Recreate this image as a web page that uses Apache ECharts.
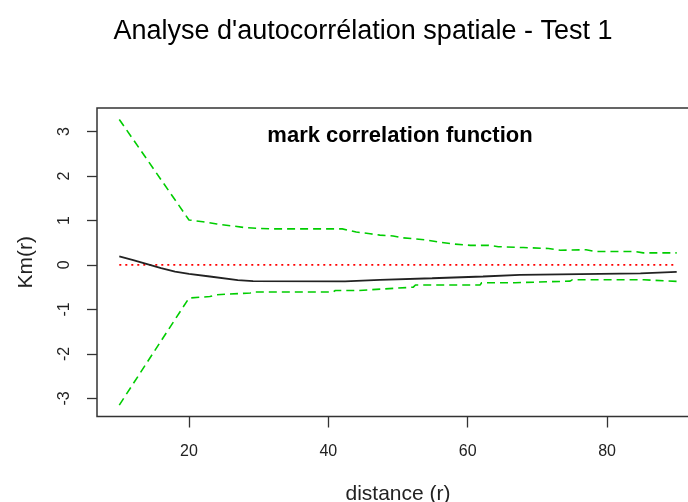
<!DOCTYPE html>
<html>
<head>
<meta charset="utf-8">
<script src="https://cdn.jsdelivr.net/npm/echarts@6/dist/echarts.min.js"></script>
<style>
  html, body { margin: 0; padding: 0; background: #ffffff; }
  #chart { width: 688px; height: 502px; }
</style>
</head>
<body>
<div id="chart"></div>
<script>
// Observed mark correlation function Km(r)
const obsR  = [10, 12, 14, 16, 18, 20, 23, 27, 29.2, 42.4, 42.5, 47.4, 47.5, 54.9, 55, 62.2, 62.3, 67.5, 67.6, 84.8, 84.9, 90];
const obsKm = [0.19, 0.11, 0.02, -0.07, -0.15, -0.20, -0.26, -0.34, -0.365, -0.37, -0.335, -0.335, -0.30, -0.30, -0.26, -0.26, -0.225, -0.225, -0.19, -0.19, -0.155, -0.155];

// Upper simulation envelope
const hiR  = [10, 20, 22, 24, 26, 28, 30, 32, 42, 44, 46, 47.4, 49.3, 50.6, 52.2, 54, 56, 58, 60.4, 63, 64.4, 68, 71.6, 73.3, 77, 78.3, 84, 85.2, 90];
const hiKm = [3.27, 1.01, 0.97, 0.92, 0.88, 0.84, 0.82, 0.81, 0.81, 0.74, 0.70, 0.67, 0.65, 0.61, 0.59, 0.56, 0.51, 0.47, 0.44, 0.44, 0.41, 0.39, 0.37, 0.33, 0.34, 0.30, 0.30, 0.27, 0.27];

// Lower simulation envelope
const loR  = [10, 20, 23, 24, 28.8, 29.2, 40.7, 41, 44.3, 44.5, 47.9, 48, 52.2, 52.5, 61.8, 62, 66.8, 67, 74.7, 75, 85.3, 85.5, 90];
const loKm = [-3.15, -0.745, -0.71, -0.67, -0.63, -0.61, -0.61, -0.575, -0.575, -0.54, -0.54, -0.50, -0.50, -0.45, -0.45, -0.40, -0.40, -0.365, -0.365, -0.335, -0.335, -0.37, -0.37];

// Theoretical value under independence
const theoR  = [10, 90];
const theoKm = [0, 0];

const xTicks = [20, 40, 60, 80];
const yTicks = [-3, -2, -1, 0, 1, 2, 3];

const pairs = (xs, ys) => xs.map((x, i) => [x, ys[i]]);

// axis limits extended by 4% of the data range on each side
function padded(values) {
  const lo = Math.min(...values), hi = Math.max(...values);
  const d = (hi - lo) * 0.04;
  return [lo - d, hi + d];
}
const xLim = padded([].concat(obsR, hiR, loR, theoR));
const yLim = padded([].concat(obsKm, hiKm, loKm, theoKm));

const font = '"Liberation Sans", Arial, Helvetica, sans-serif';
const ink = '#222222';

const chart = echarts.init(document.getElementById('chart'), null, { renderer: 'canvas' });
chart.setOption({
  animation: false,
  backgroundColor: '#ffffff',
  title: [
    {
      text: "Analyse d'autocorrélation spatiale - Test 1",
      left: 358, top: 13, textAlign: 'center',
      textStyle: { fontFamily: font, fontSize: 27, fontWeight: 'normal', color: '#000' }
    },
    {
      text: 'mark correlation function',
      left: 395, top: 120, textAlign: 'center',
      textStyle: { fontFamily: font, fontSize: 22, fontWeight: 'bold', color: '#000' }
    }
  ],
  grid: {
    left: 97, top: 108, right: -11, bottom: 85.5,
    outerBoundsMode: 'none', containLabel: false,
    show: true, borderColor: '#333', borderWidth: 1.5, backgroundColor: 'transparent'
  },
  xAxis: {
    type: 'value', min: xLim[0], max: xLim[1],
    name: 'distance (r)', nameLocation: 'middle', nameGap: 67,
    nameTextStyle: { fontFamily: font, fontSize: 21, color: ink },
    axisLine: { show: false, onZero: false },
    axisTick: { show: true, length: 11, customValues: xTicks, lineStyle: { color: '#333', width: 1.3 } },
    axisLabel: { customValues: xTicks, margin: 27, fontFamily: font, fontSize: 16, color: ink },
    splitLine: { show: false }
  },
  yAxis: {
    type: 'value', min: yLim[0], max: yLim[1],
    name: 'Km(r)', nameLocation: 'middle', nameGap: 60, nameRotate: 90,
    nameTextStyle: { fontFamily: font, fontSize: 21, color: ink },
    axisLine: { show: false, onZero: false },
    axisTick: { show: true, length: 10, customValues: yTicks, lineStyle: { color: '#333', width: 1.3 } },
    axisLabel: { customValues: yTicks, rotate: 90, margin: 24, fontFamily: font, fontSize: 16, color: ink },
    splitLine: { show: false }
  },
  series: [
    {
      name: 'theo', type: 'line', data: pairs(theoR, theoKm), symbol: 'none',
      lineStyle: { color: '#ff0000', width: 1.6, type: [2, 4] }, z: 2
    },
    {
      name: 'hi', type: 'line', data: pairs(hiR, hiKm), symbol: 'none',
      lineStyle: { color: '#00cd00', width: 1.6, type: [8, 5] }, z: 3
    },
    {
      name: 'lo', type: 'line', data: pairs(loR, loKm), symbol: 'none',
      lineStyle: { color: '#00cd00', width: 1.6, type: [8, 5] }, z: 3
    },
    {
      name: 'obs', type: 'line', data: pairs(obsR, obsKm), symbol: 'none',
      lineStyle: { color: '#222222', width: 1.8 }, z: 4
    }
  ]
});
</script>
</body>
</html>
